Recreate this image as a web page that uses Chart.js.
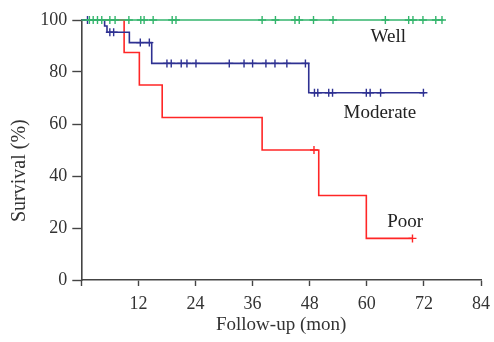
<!DOCTYPE html>
<html>
<head>
<meta charset="utf-8">
<script src="https://cdn.jsdelivr.net/npm/chart.js@4/dist/chart.umd.min.js"></script>
<style>
  html, body { margin: 0; padding: 0; background: #fff; }
  #wrap { width: 494px; height: 342px; }
</style>
</head>
<body>
<div id="wrap"><canvas id="km"></canvas></div>
<script>
// === Kaplan-Meier curves by differentiation grade ===

const groupNames = ["Well", "Moderate", "Poor"];

// step points: time (months) and survival (%) after each event
const wellTimes = [0, 76.1];
const wellSurv = [100, 100];
const modTimes = [0, 4.9, 5.4, 10.1, 14.8, 47.8, 72.2];
const modSurv = [100, 97.7, 95.3, 91.3, 83.3, 72.0, 72.0];
const poorTimes = [0, 9.0, 12.2, 17.0, 38.0, 49.9, 59.9, 69.7];
const poorSurv = [100, 87.5, 75, 62.5, 50, 32.5, 16, 16];

// censored observations (months)
const wellCensor = [1.7, 2.5, 3.4, 4.3, 6.0, 7.1, 10.0, 12.5, 13.2, 15.1, 19.1, 19.9,
  38.0, 40.8, 44.9, 45.8, 48.8, 52.9, 63.9, 68.8, 69.7, 71.8, 74.5, 75.8];
const modCensor = [1.3, 6.0, 6.8, 12.4, 14.3, 18.0, 18.9, 21.0, 22.2, 24.1, 31.1, 34.2,
  36.0, 38.8, 40.7, 43.2, 47.1, 49.0, 49.7, 52.0, 52.8, 59.9, 60.7, 62.9, 71.9];
const poorCensor = [48.9, 69.6];

const xTicks = [0, 12, 24, 36, 48, 60, 72, 84];
const yTicks = [0, 20, 40, 60, 80, 100];

const colors = ["#33b56c", "#2e3192", "#ff2626"];
const FONT = "'Liberation Serif', 'Times New Roman', serif";

// survival level at time t from a step curve
function survAt(times, surv, t) {
  let s = surv[0];
  for (let i = 0; i < times.length; i++) {
    if (times[i] <= t) s = surv[i];
  }
  return s;
}

const curves = [
  [wellTimes, wellSurv, wellCensor],
  [modTimes, modSurv, modCensor],
  [poorTimes, poorSurv, poorCensor],
];

const datasets = [];
curves.forEach(([times, surv, cens], i) => {
  datasets.push({
    label: groupNames[i],
    data: times.map((t, k) => ({ x: t, y: surv[k] })),
    borderColor: colors[i],
    borderWidth: 1.6,
    stepped: "before",
    pointRadius: 0,
    showLine: true,
    clip: false,
    order: i,
  });
  datasets.push({
    label: groupNames[i] + " censored",
    data: cens.map(t => ({ x: t, y: survAt(times, surv, t) })),
    borderColor: colors[i],
    backgroundColor: colors[i],
    pointStyle: "cross",
    pointRadius: 4,
    pointBorderWidth: 1.4,
    showLine: false,
    clip: false,
    order: i,
  });
});

// group names next to the curves + y axis title
const labelPlugin = {
  id: "groupLabels",
  afterDatasetsDraw(chart) {
    const { ctx, scales: { x, y } } = chart;
    const spots = [[60.8, 91.5], [55.1, 62.3], [64.3, 20.4]];
    ctx.save();
    ctx.font = "19px " + FONT;
    ctx.fillStyle = "#222";
    ctx.textBaseline = "alphabetic";
    groupNames.forEach((name, i) => {
      ctx.fillText(name, x.getPixelForValue(spots[i][0]), y.getPixelForValue(spots[i][1]));
    });

    // y title, rotated, starting near the bottom like the original
    ctx.translate(20, 222);
    ctx.rotate(-Math.PI / 2);
    ctx.font = "20px " + FONT;
    ctx.fillStyle = "#333";
    ctx.textAlign = "left";
    ctx.textBaseline = "middle";
    ctx.fillText("Survival (%)", 0, 0);
    ctx.restore();
  }
};

new Chart(document.getElementById("km"), {
  type: "scatter",
  data: { datasets },
  plugins: [labelPlugin],
  options: {
    responsive: true,
    maintainAspectRatio: false,
    animation: false,
    layout: { padding: { top: 20, right: 13, left: 0, bottom: 0 } },
    plugins: { legend: { display: false }, tooltip: { enabled: false } },
    scales: {
      x: {
        type: "linear",
        min: 0, max: 84,
        afterBuildTicks: s => { s.ticks = xTicks.map(v => ({ value: v })); },
        afterFit: s => { s.height = 62; s.paddingLeft = 0; s.paddingRight = 0; },
        ticks: {
          color: "#333",
          font: { family: FONT, size: 18 },
          padding: 7,
          callback: v => (v === 0 ? "" : v),
        },
        grid: { drawOnChartArea: false, tickLength: 6, tickColor: "#444", tickWidth: 1.4 },
        border: { color: "#444", width: 1.6 },
        title: {
          display: true, text: "Follow-up (mon)", color: "#333",
          font: { family: FONT, size: 19 }, padding: { top: 0, bottom: 6 },
        },
      },
      y: {
        min: 0, max: 100,
        afterBuildTicks: s => { s.ticks = yTicks.map(v => ({ value: v })); },
        afterFit: s => { s.width = 81.3; },
        ticks: { color: "#333", font: { family: FONT, size: 18 }, padding: 5 },
        grid: { drawOnChartArea: false, tickLength: 9, tickColor: "#444", tickWidth: 1.4 },
        border: { color: "#444", width: 1.6 },
      },
    },
  },
});
</script>
</body>
</html>
